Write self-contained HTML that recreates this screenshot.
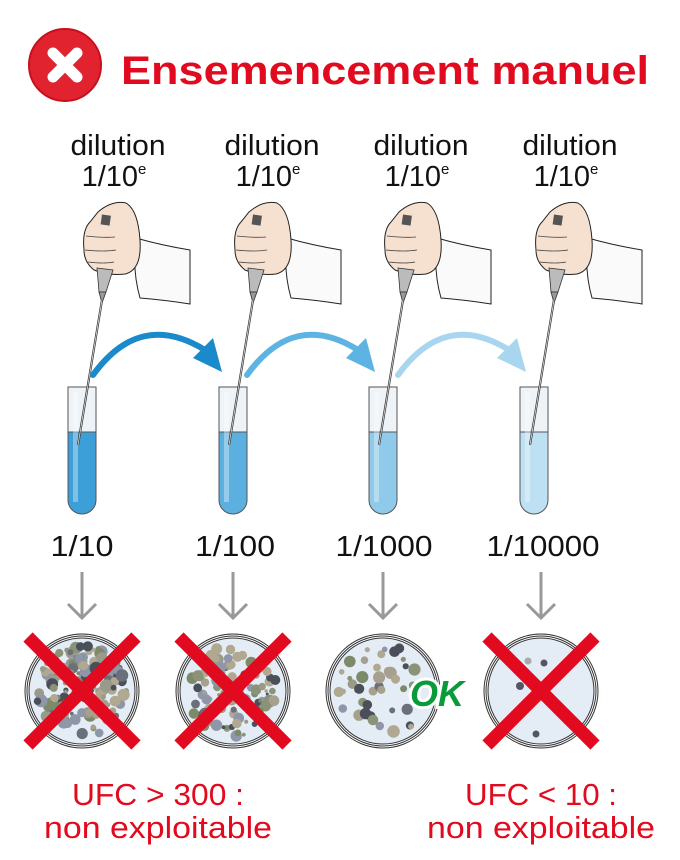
<!DOCTYPE html>
<html><head><meta charset="utf-8"><style>
html,body{margin:0;padding:0;background:#fff;}
svg{display:block;}
text{font-family:"Liberation Sans",Arial,sans-serif;}
</style></head><body>
<svg id="s" width="680" height="860" viewBox="0 0 680 860" xmlns="http://www.w3.org/2000/svg">
<defs>
<g id="hand">
  <path d="M136,238 Q160,245 190,250 L190,304 Q165,300 140,298 Q132,270 136,238 Z" fill="#fafafa" stroke="#222" stroke-width="1"/>
  <path d="M98,212 Q112,200 126,203 Q138,210 140,240 Q142,270 125,274 Q108,276 94,270 Q84,262 84,250 Q82,230 90,222 Z" fill="#f6e0cf" stroke="#222" stroke-width="1"/>
  <path d="M86,236 Q104,238 115,237 M85,250 Q104,252 116,250 M88,262 Q104,264 114,262" fill="none" stroke="#444" stroke-width="0.8"/>
  <rect x="101" y="215" width="9" height="10" fill="#555" transform="rotate(8 105 222)"/>
  <path d="M97,268 L113,270 L106,292 L99,292 Z" fill="#bbb" stroke="#333" stroke-width="0.8"/>
  <path d="M99,292 L106,292 L102,303 Z" fill="#999" stroke="#333" stroke-width="0.8"/>
  <line x1="102" y1="300" x2="78" y2="445" stroke="#333" stroke-width="2.2"/>
  <line x1="102" y1="300" x2="78" y2="445" stroke="#ddd" stroke-width="0.8"/>
</g>
<g id="tube">
  <rect x="-14" y="387" width="28" height="45" fill="#eef3f7" stroke="#555" stroke-width="1"/>
  <path d="M-14,432 L14,432 L14,500 A14,14 0 0 1 -14,500 Z" fill="currentColor" stroke="#555" stroke-width="1"/>
  <rect x="-9" y="392" width="5" height="110" fill="#fff" opacity="0.35"/>
</g>
<g id="garrow">
  <line x1="0" y1="572" x2="0" y2="617" stroke="#999" stroke-width="3"/>
  <polyline points="-14,604 0,618 14,604" fill="none" stroke="#999" stroke-width="3"/>
</g>
<g id="dish">
  <circle r="57" fill="#fff" stroke="#333" stroke-width="1"/>
  <circle r="55" fill="#fff" stroke="#333" stroke-width="1"/>
  <circle r="53" fill="#e4edf6" stroke="#333" stroke-width="1"/>
</g>
<g id="bigx">
  <line x1="-54" y1="-54" x2="54" y2="54" stroke="#e10a1e" stroke-width="13"/>
  <line x1="54" y1="-54" x2="-54" y2="54" stroke="#e10a1e" stroke-width="13"/>
</g>
</defs>

<circle cx="65" cy="65" r="36" fill="#e0232f"/>
<circle cx="65" cy="65" r="36" fill="none" stroke="#c8101c" stroke-width="2"/>
<line x1="53" y1="53" x2="77" y2="77" stroke="#fff" stroke-width="11" stroke-linecap="round"/>
<line x1="77" y1="53" x2="53" y2="77" stroke="#fff" stroke-width="11" stroke-linecap="round"/>
<text x="121" y="84" font-size="40" font-weight="bold" fill="#e10a1e" textLength="528" lengthAdjust="spacingAndGlyphs">Ensemencement manuel</text>

<g font-size="29" fill="#111" text-anchor="middle">
  <text x="118" y="155" textLength="95" lengthAdjust="spacingAndGlyphs">dilution</text><text x="114" y="186">1/10<tspan font-size="15" dy="-12">e</tspan></text>
  <text x="272" y="155" textLength="95" lengthAdjust="spacingAndGlyphs">dilution</text><text x="268" y="186">1/10<tspan font-size="15" dy="-12">e</tspan></text>
  <text x="421" y="155" textLength="95" lengthAdjust="spacingAndGlyphs">dilution</text><text x="417" y="186">1/10<tspan font-size="15" dy="-12">e</tspan></text>
  <text x="570" y="155" textLength="95" lengthAdjust="spacingAndGlyphs">dilution</text><text x="566" y="186">1/10<tspan font-size="15" dy="-12">e</tspan></text>
</g>

<g transform="translate(82,0)" style="color:#3d9fd8"><use href="#tube"/></g>
<g transform="translate(233,0)" style="color:#5cb0e0"><use href="#tube"/></g>
<g transform="translate(383,0)" style="color:#8fcaeb"><use href="#tube"/></g>
<g transform="translate(534,0)" style="color:#bde0f3"><use href="#tube"/></g>

<use href="#hand"/>
<use href="#hand" transform="translate(151,0)"/>
<use href="#hand" transform="translate(301,0)"/>
<use href="#hand" transform="translate(452,0)"/>

<path d="M93,375 Q140,310 205,350" fill="none" stroke="#1a8acb" stroke-width="6" stroke-linecap="round"/>
<polygon points="222,372 193,358 213,338" fill="#1a8acb"/>
<path d="M247,375 Q294,310 358,350" fill="none" stroke="#5db3e1" stroke-width="6" stroke-linecap="round"/>
<polygon points="375,372 346,358 366,338" fill="#5db3e1"/>
<path d="M398,375 Q445,310 509,350" fill="none" stroke="#a8d6ef" stroke-width="6" stroke-linecap="round"/>
<polygon points="526,372 497,358 517,338" fill="#a8d6ef"/>

<g font-size="29" fill="#111" text-anchor="middle">
  <text x="82" y="556" textLength="63" lengthAdjust="spacingAndGlyphs">1/10</text>
  <text x="235" y="556" textLength="80" lengthAdjust="spacingAndGlyphs">1/100</text>
  <text x="384" y="556" textLength="97" lengthAdjust="spacingAndGlyphs">1/1000</text>
  <text x="543" y="556" textLength="113" lengthAdjust="spacingAndGlyphs">1/10000</text>
</g>

<use href="#garrow" transform="translate(82,0)"/>
<use href="#garrow" transform="translate(233,0)"/>
<use href="#garrow" transform="translate(383,0)"/>
<use href="#garrow" transform="translate(541,0)"/>

<g transform="translate(82,691)"><use href="#dish"/><g id="c1"></g></g>
<g transform="translate(233,691)"><use href="#dish"/><g id="c2"></g></g>
<g transform="translate(383,691)"><use href="#dish"/><g id="c3"></g></g>
<g transform="translate(541,691)"><use href="#dish"/>
  <circle cx="-13" cy="-30" r="3.5" fill="#aaa"/><circle cx="3" cy="-28" r="3.5" fill="#556"/>
  <circle cx="-21" cy="-5" r="4" fill="#556"/><circle cx="-5" cy="43" r="3.5" fill="#556"/>
</g>

<use href="#bigx" transform="translate(82,691)"/>
<use href="#bigx" transform="translate(233,691)"/>
<use href="#bigx" transform="translate(541,691)"/>

<text x="437" y="706" font-size="36" font-weight="bold" font-style="italic" fill="#0a9a3a" text-anchor="middle" stroke="#fff" stroke-width="6" paint-order="stroke">OK</text>

<g font-size="31" fill="#e10a1e" text-anchor="middle">
  <text x="158" y="805" textLength="172" lengthAdjust="spacingAndGlyphs">UFC &gt; 300 :</text>
  <text x="158" y="838" textLength="228" lengthAdjust="spacingAndGlyphs">non exploitable</text>
  <text x="541" y="805" textLength="152" lengthAdjust="spacingAndGlyphs">UFC &lt; 10 :</text>
  <text x="541" y="838" textLength="228" lengthAdjust="spacingAndGlyphs">non exploitable</text>
</g>
</svg>
<script>
(function(){
var seed=7;function r(){seed=(seed*16807)%2147483647;return seed/2147483647;}
var cols=["#9a9a8a","#8a9378","#6b6f7a","#a8a08e","#4a4f5a","#8e96a8","#b0a890","#7d8a6a"];
function fill(id,n,minr,maxr){var g=document.getElementById(id);var s="";
for(var i=0;i<n;i++){var a=r()*Math.PI*2,d=Math.sqrt(r())*46;var x=Math.cos(a)*d,y=Math.sin(a)*d;
s+='<circle cx="'+x.toFixed(1)+'" cy="'+y.toFixed(1)+'" r="'+(minr+r()*maxr).toFixed(1)+'" fill="'+cols[Math.floor(r()*cols.length)]+'"/>';}
g.innerHTML=s;}
fill("c1",170,1.5,5);fill("c2",110,1.5,4.5);fill("c3",45,2.5,4);
})();
</script>
</body></html>
